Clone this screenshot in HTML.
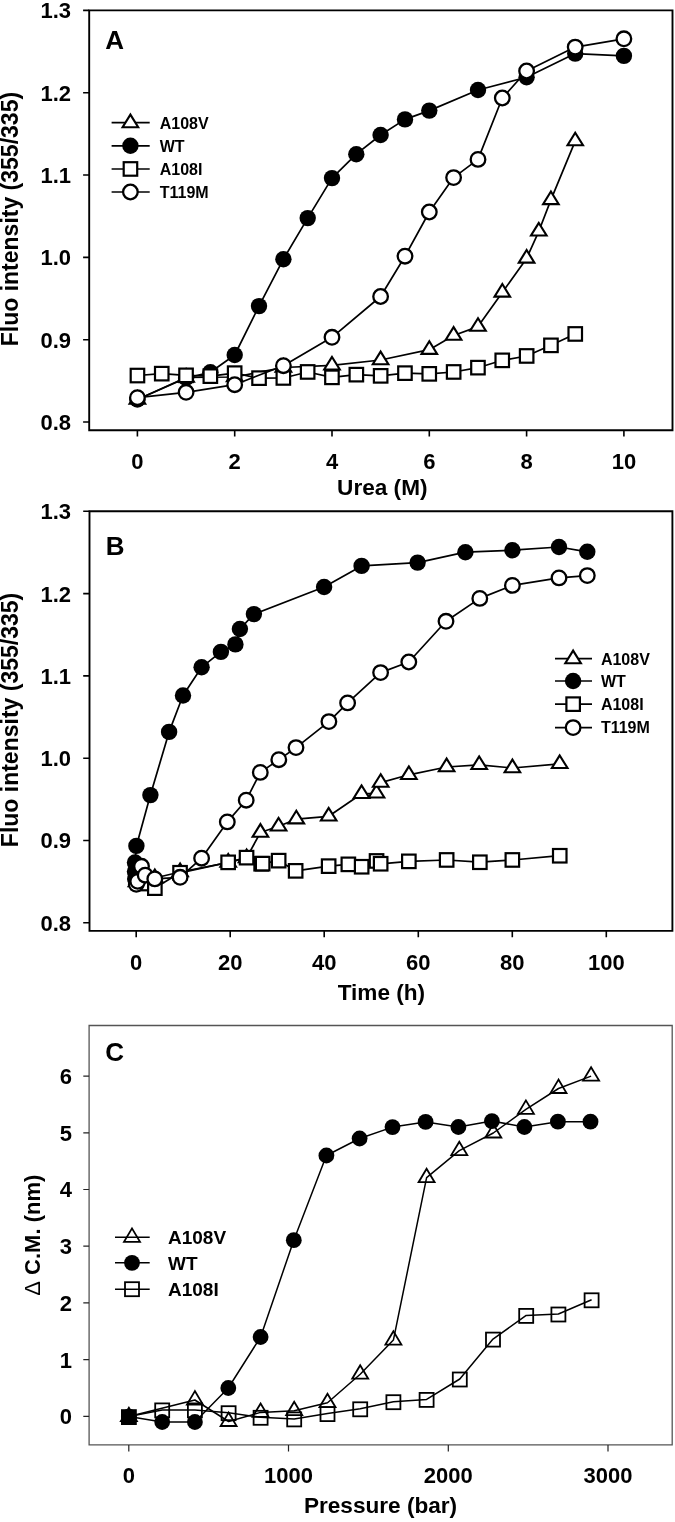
<!DOCTYPE html>
<html><head><meta charset="utf-8"><title>Figure</title>
<style>html,body{margin:0;padding:0;background:#fff;}svg{display:block;will-change:transform;}text{font-family:"Liberation Sans", sans-serif;fill:#000;}</style></head><body>
<svg width="675" height="1522" viewBox="0 0 675 1522">
<rect x="0" y="0" width="675" height="1522" fill="#fff"/>
<path d="M89.2 10.4H672.5V430.2H89.2Z" fill="none" stroke="#000" stroke-width="1.9"/>
<text x="71" y="18.3" font-size="22" font-weight="bold" text-anchor="end">1.3</text>
<text x="71" y="100.6" font-size="22" font-weight="bold" text-anchor="end">1.2</text>
<text x="71" y="182.9" font-size="22" font-weight="bold" text-anchor="end">1.1</text>
<text x="71" y="265.3" font-size="22" font-weight="bold" text-anchor="end">1.0</text>
<text x="71" y="347.6" font-size="22" font-weight="bold" text-anchor="end">0.9</text>
<text x="71" y="429.9" font-size="22" font-weight="bold" text-anchor="end">0.8</text>
<text x="137.4" y="469.4" font-size="22" font-weight="bold" text-anchor="middle">0</text>
<text x="234.7" y="469.4" font-size="22" font-weight="bold" text-anchor="middle">2</text>
<text x="332" y="469.4" font-size="22" font-weight="bold" text-anchor="middle">4</text>
<text x="429.3" y="469.4" font-size="22" font-weight="bold" text-anchor="middle">6</text>
<text x="526.6" y="469.4" font-size="22" font-weight="bold" text-anchor="middle">8</text>
<text x="623.9" y="469.4" font-size="22" font-weight="bold" text-anchor="middle">10</text>
<path d="M83.1 10.4H89.2M83.1 92.7H89.2M83.1 175H89.2M83.1 257.4H89.2M83.1 339.7H89.2M83.1 422H89.2M137.4 430.2V436.5M234.7 430.2V436.5M332 430.2V436.5M429.3 430.2V436.5M526.6 430.2V436.5M623.9 430.2V436.5" stroke="#000" stroke-width="1.6" fill="none"/>
<text x="382.3" y="494.6" font-size="22.6" font-weight="bold" text-anchor="middle">Urea (M)</text>
<text x="18.4" y="219.1" font-size="23" font-weight="bold" text-anchor="middle" transform="rotate(-90 18.4 219.1)">Fluo intensity (355/335)</text>
<text x="105.3" y="48.9" font-size="26" font-weight="bold" text-anchor="start">A</text>
<polyline points="137.4,399.5 186.1,377.5 234.7,377 283.4,367.5 332,365.3 380.6,360 429.3,349.7 453.6,335.5 478,326.6 502.3,292.4 526.6,258.4 538.8,231.3 550.9,199.9 575.2,141.1" fill="none" stroke="#000" stroke-width="1.7" stroke-linejoin="round"/>
<path d="M137.4 391.1L129.6 403.7L145.2 403.7Z" fill="#fff" stroke="#000" stroke-width="2.1" stroke-linejoin="miter"/>
<path d="M186.1 369.1L178.2 381.7L193.9 381.7Z" fill="#fff" stroke="#000" stroke-width="2.1" stroke-linejoin="miter"/>
<path d="M234.7 368.6L226.9 381.2L242.5 381.2Z" fill="#fff" stroke="#000" stroke-width="2.1" stroke-linejoin="miter"/>
<path d="M283.4 359.1L275.6 371.7L291.2 371.7Z" fill="#fff" stroke="#000" stroke-width="2.1" stroke-linejoin="miter"/>
<path d="M332 356.9L324.2 369.5L339.8 369.5Z" fill="#fff" stroke="#000" stroke-width="2.1" stroke-linejoin="miter"/>
<path d="M380.6 351.6L372.8 364.2L388.4 364.2Z" fill="#fff" stroke="#000" stroke-width="2.1" stroke-linejoin="miter"/>
<path d="M429.3 341.3L421.5 353.9L437.1 353.9Z" fill="#fff" stroke="#000" stroke-width="2.1" stroke-linejoin="miter"/>
<path d="M453.6 327.1L445.8 339.7L461.4 339.7Z" fill="#fff" stroke="#000" stroke-width="2.1" stroke-linejoin="miter"/>
<path d="M478 318.2L470.2 330.8L485.8 330.8Z" fill="#fff" stroke="#000" stroke-width="2.1" stroke-linejoin="miter"/>
<path d="M502.3 284L494.5 296.6L510.1 296.6Z" fill="#fff" stroke="#000" stroke-width="2.1" stroke-linejoin="miter"/>
<path d="M526.6 250L518.8 262.6L534.4 262.6Z" fill="#fff" stroke="#000" stroke-width="2.1" stroke-linejoin="miter"/>
<path d="M538.8 222.9L531 235.5L546.6 235.5Z" fill="#fff" stroke="#000" stroke-width="2.1" stroke-linejoin="miter"/>
<path d="M550.9 191.5L543.1 204.1L558.7 204.1Z" fill="#fff" stroke="#000" stroke-width="2.1" stroke-linejoin="miter"/>
<path d="M575.2 132.7L567.5 145.3L583 145.3Z" fill="#fff" stroke="#000" stroke-width="2.1" stroke-linejoin="miter"/>
<polyline points="137.4,399.5 186.1,378 210.4,372.3 234.7,355 259,306.1 283.4,259.2 307.7,218.1 332,178.1 356.3,154.2 380.6,135 405,119.4 429.3,110.6 478,90 526.6,77.3 575.2,53.6 623.9,55.9" fill="none" stroke="#000" stroke-width="1.7" stroke-linejoin="round"/>
<circle cx="137.4" cy="399.5" r="8.2" fill="#000"/>
<circle cx="186.1" cy="378" r="8.2" fill="#000"/>
<circle cx="210.4" cy="372.3" r="8.2" fill="#000"/>
<circle cx="234.7" cy="355" r="8.2" fill="#000"/>
<circle cx="259" cy="306.1" r="8.2" fill="#000"/>
<circle cx="283.4" cy="259.2" r="8.2" fill="#000"/>
<circle cx="307.7" cy="218.1" r="8.2" fill="#000"/>
<circle cx="332" cy="178.1" r="8.2" fill="#000"/>
<circle cx="356.3" cy="154.2" r="8.2" fill="#000"/>
<circle cx="380.6" cy="135" r="8.2" fill="#000"/>
<circle cx="405" cy="119.4" r="8.2" fill="#000"/>
<circle cx="429.3" cy="110.6" r="8.2" fill="#000"/>
<circle cx="478" cy="90" r="8.2" fill="#000"/>
<circle cx="526.6" cy="77.3" r="8.2" fill="#000"/>
<circle cx="575.2" cy="53.6" r="8.2" fill="#000"/>
<circle cx="623.9" cy="55.9" r="8.2" fill="#000"/>
<polyline points="137.4,375.5 161.7,373.6 186.1,375.4 210.4,376.2 234.7,373.2 259,378.2 283.4,378 307.7,372 332,377.3 356.3,374.7 380.6,375.8 405,373.1 429.3,373.8 453.6,372 478,367.7 502.3,360.3 526.6,356 550.9,345.3 575.2,334" fill="none" stroke="#000" stroke-width="1.7" stroke-linejoin="round"/>
<rect x="130.7" y="368.8" width="13.5" height="13.5" fill="#fff" stroke="#000" stroke-width="2.2"/>
<rect x="155" y="366.9" width="13.5" height="13.5" fill="#fff" stroke="#000" stroke-width="2.2"/>
<rect x="179.3" y="368.6" width="13.5" height="13.5" fill="#fff" stroke="#000" stroke-width="2.2"/>
<rect x="203.6" y="369.4" width="13.5" height="13.5" fill="#fff" stroke="#000" stroke-width="2.2"/>
<rect x="227.9" y="366.4" width="13.5" height="13.5" fill="#fff" stroke="#000" stroke-width="2.2"/>
<rect x="252.3" y="371.4" width="13.5" height="13.5" fill="#fff" stroke="#000" stroke-width="2.2"/>
<rect x="276.6" y="371.2" width="13.5" height="13.5" fill="#fff" stroke="#000" stroke-width="2.2"/>
<rect x="300.9" y="365.2" width="13.5" height="13.5" fill="#fff" stroke="#000" stroke-width="2.2"/>
<rect x="325.2" y="370.6" width="13.5" height="13.5" fill="#fff" stroke="#000" stroke-width="2.2"/>
<rect x="349.6" y="367.9" width="13.5" height="13.5" fill="#fff" stroke="#000" stroke-width="2.2"/>
<rect x="373.9" y="369.1" width="13.5" height="13.5" fill="#fff" stroke="#000" stroke-width="2.2"/>
<rect x="398.2" y="366.4" width="13.5" height="13.5" fill="#fff" stroke="#000" stroke-width="2.2"/>
<rect x="422.5" y="367.1" width="13.5" height="13.5" fill="#fff" stroke="#000" stroke-width="2.2"/>
<rect x="446.9" y="365.2" width="13.5" height="13.5" fill="#fff" stroke="#000" stroke-width="2.2"/>
<rect x="471.2" y="360.9" width="13.5" height="13.5" fill="#fff" stroke="#000" stroke-width="2.2"/>
<rect x="495.5" y="353.6" width="13.5" height="13.5" fill="#fff" stroke="#000" stroke-width="2.2"/>
<rect x="519.9" y="349.2" width="13.5" height="13.5" fill="#fff" stroke="#000" stroke-width="2.2"/>
<rect x="544.2" y="338.6" width="13.5" height="13.5" fill="#fff" stroke="#000" stroke-width="2.2"/>
<rect x="568.5" y="327.2" width="13.5" height="13.5" fill="#fff" stroke="#000" stroke-width="2.2"/>
<polyline points="137.4,397.7 186.1,392.3 234.7,384.7 283.4,365.7 332,337.3 380.6,296.5 405,256.2 429.3,212 453.6,177.6 478,159.4 502.3,98 526.6,71 575.2,47.1 623.9,38.8" fill="none" stroke="#000" stroke-width="1.7" stroke-linejoin="round"/>
<circle cx="137.4" cy="397.7" r="7.3" fill="#fff" stroke="#000" stroke-width="2.3"/>
<circle cx="186.1" cy="392.3" r="7.3" fill="#fff" stroke="#000" stroke-width="2.3"/>
<circle cx="234.7" cy="384.7" r="7.3" fill="#fff" stroke="#000" stroke-width="2.3"/>
<circle cx="283.4" cy="365.7" r="7.3" fill="#fff" stroke="#000" stroke-width="2.3"/>
<circle cx="332" cy="337.3" r="7.3" fill="#fff" stroke="#000" stroke-width="2.3"/>
<circle cx="380.6" cy="296.5" r="7.3" fill="#fff" stroke="#000" stroke-width="2.3"/>
<circle cx="405" cy="256.2" r="7.3" fill="#fff" stroke="#000" stroke-width="2.3"/>
<circle cx="429.3" cy="212" r="7.3" fill="#fff" stroke="#000" stroke-width="2.3"/>
<circle cx="453.6" cy="177.6" r="7.3" fill="#fff" stroke="#000" stroke-width="2.3"/>
<circle cx="478" cy="159.4" r="7.3" fill="#fff" stroke="#000" stroke-width="2.3"/>
<circle cx="502.3" cy="98" r="7.3" fill="#fff" stroke="#000" stroke-width="2.3"/>
<circle cx="526.6" cy="71" r="7.3" fill="#fff" stroke="#000" stroke-width="2.3"/>
<circle cx="575.2" cy="47.1" r="7.3" fill="#fff" stroke="#000" stroke-width="2.3"/>
<circle cx="623.9" cy="38.8" r="7.3" fill="#fff" stroke="#000" stroke-width="2.3"/>
<path d="M111.6 122.7H149.7" stroke="#000" stroke-width="1.7"/>
<path d="M130.4 114.6L122.6 127.2L138.2 127.2Z" fill="#fff" stroke="#000" stroke-width="2.1" stroke-linejoin="miter"/>
<text x="159.7" y="128.5" font-size="16" font-weight="bold" text-anchor="start">A108V</text>
<path d="M111.6 145.8H149.7" stroke="#000" stroke-width="1.7"/>
<circle cx="130.4" cy="145.8" r="8.2" fill="#000"/>
<text x="159.7" y="151.6" font-size="16" font-weight="bold" text-anchor="start">WT</text>
<path d="M111.6 169H149.7" stroke="#000" stroke-width="1.7"/>
<rect x="123.7" y="162.2" width="13.5" height="13.5" fill="#fff" stroke="#000" stroke-width="2.2"/>
<text x="159.7" y="174.8" font-size="16" font-weight="bold" text-anchor="start">A108I</text>
<path d="M111.6 192H149.7" stroke="#000" stroke-width="1.7"/>
<circle cx="130.4" cy="192" r="7.3" fill="#fff" stroke="#000" stroke-width="2.3"/>
<text x="159.7" y="197.8" font-size="16" font-weight="bold" text-anchor="start">T119M</text>
<path d="M89.5 511.3H672.4V930.9H89.5Z" fill="none" stroke="#000" stroke-width="1.9"/>
<text x="71" y="519.2" font-size="22" font-weight="bold" text-anchor="end">1.3</text>
<text x="71" y="601.5" font-size="22" font-weight="bold" text-anchor="end">1.2</text>
<text x="71" y="683.8" font-size="22" font-weight="bold" text-anchor="end">1.1</text>
<text x="71" y="766.1" font-size="22" font-weight="bold" text-anchor="end">1.0</text>
<text x="71" y="848.4" font-size="22" font-weight="bold" text-anchor="end">0.9</text>
<text x="71" y="930.7" font-size="22" font-weight="bold" text-anchor="end">0.8</text>
<text x="136.2" y="969.6" font-size="22" font-weight="bold" text-anchor="middle">0</text>
<text x="230.2" y="969.6" font-size="22" font-weight="bold" text-anchor="middle">20</text>
<text x="324.2" y="969.6" font-size="22" font-weight="bold" text-anchor="middle">40</text>
<text x="418.3" y="969.6" font-size="22" font-weight="bold" text-anchor="middle">60</text>
<text x="512.3" y="969.6" font-size="22" font-weight="bold" text-anchor="middle">80</text>
<text x="606.3" y="969.6" font-size="22" font-weight="bold" text-anchor="middle">100</text>
<path d="M83.2 511.3H89.5M83.2 593.6H89.5M83.2 675.9H89.5M83.2 758.2H89.5M83.2 840.5H89.5M83.2 922.8H89.5M136.2 930.9V937.3M230.2 930.9V937.3M324.2 930.9V937.3M418.3 930.9V937.3M512.3 930.9V937.3M606.3 930.9V937.3" stroke="#000" stroke-width="1.6" fill="none"/>
<text x="381.4" y="1000.2" font-size="22.6" font-weight="bold" text-anchor="middle">Time (h)</text>
<text x="18.4" y="720" font-size="23" font-weight="bold" text-anchor="middle" transform="rotate(-90 18.4 720.0)">Fluo intensity (355/335)</text>
<text x="105.8" y="555" font-size="26" font-weight="bold" text-anchor="start">B</text>
<polyline points="136.5,882 145,879 154.8,878 180.1,872 228.2,862.5 246.6,857.9 260.4,832.5 278.6,826.3 296.3,819.2 328.7,816.3 361.6,793.8 376.5,793.3 380.7,782.6 408.9,774.8 446.6,767 479.2,764.8 512.4,768 559.7,763.8" fill="none" stroke="#000" stroke-width="1.7" stroke-linejoin="round"/>
<path d="M136.5 873.6L128.7 886.2L144.3 886.2Z" fill="#fff" stroke="#000" stroke-width="2.1" stroke-linejoin="miter"/>
<path d="M145 870.6L137.2 883.2L152.8 883.2Z" fill="#fff" stroke="#000" stroke-width="2.1" stroke-linejoin="miter"/>
<path d="M154.8 869.6L147 882.2L162.6 882.2Z" fill="#fff" stroke="#000" stroke-width="2.1" stroke-linejoin="miter"/>
<path d="M180.1 863.6L172.3 876.2L187.9 876.2Z" fill="#fff" stroke="#000" stroke-width="2.1" stroke-linejoin="miter"/>
<path d="M228.2 854.1L220.4 866.7L236 866.7Z" fill="#fff" stroke="#000" stroke-width="2.1" stroke-linejoin="miter"/>
<path d="M246.6 849.5L238.8 862.1L254.4 862.1Z" fill="#fff" stroke="#000" stroke-width="2.1" stroke-linejoin="miter"/>
<path d="M260.4 824.1L252.6 836.7L268.2 836.7Z" fill="#fff" stroke="#000" stroke-width="2.1" stroke-linejoin="miter"/>
<path d="M278.6 817.9L270.8 830.5L286.4 830.5Z" fill="#fff" stroke="#000" stroke-width="2.1" stroke-linejoin="miter"/>
<path d="M296.3 810.8L288.5 823.4L304.1 823.4Z" fill="#fff" stroke="#000" stroke-width="2.1" stroke-linejoin="miter"/>
<path d="M328.7 807.9L320.9 820.5L336.5 820.5Z" fill="#fff" stroke="#000" stroke-width="2.1" stroke-linejoin="miter"/>
<path d="M361.6 785.4L353.8 798L369.4 798Z" fill="#fff" stroke="#000" stroke-width="2.1" stroke-linejoin="miter"/>
<path d="M376.5 784.9L368.7 797.5L384.3 797.5Z" fill="#fff" stroke="#000" stroke-width="2.1" stroke-linejoin="miter"/>
<path d="M380.7 774.2L372.9 786.8L388.5 786.8Z" fill="#fff" stroke="#000" stroke-width="2.1" stroke-linejoin="miter"/>
<path d="M408.9 766.4L401.1 779L416.7 779Z" fill="#fff" stroke="#000" stroke-width="2.1" stroke-linejoin="miter"/>
<path d="M446.6 758.6L438.8 771.2L454.4 771.2Z" fill="#fff" stroke="#000" stroke-width="2.1" stroke-linejoin="miter"/>
<path d="M479.2 756.4L471.4 769L487 769Z" fill="#fff" stroke="#000" stroke-width="2.1" stroke-linejoin="miter"/>
<path d="M512.4 759.6L504.6 772.2L520.2 772.2Z" fill="#fff" stroke="#000" stroke-width="2.1" stroke-linejoin="miter"/>
<path d="M559.7 755.4L551.9 768L567.5 768Z" fill="#fff" stroke="#000" stroke-width="2.1" stroke-linejoin="miter"/>
<polyline points="135.2,879 135,871.5 135,862.5 136.4,845.9 150.4,795.1 169.1,731.9 183,695.5 201.6,667.3 220.9,651.9 235.4,644.4 239.9,629 253.9,614.1 324.1,587 361.6,565.9 417.6,562.6 465.4,552.2 512.4,550.2 559,547 587.3,551.8" fill="none" stroke="#000" stroke-width="1.7" stroke-linejoin="round"/>
<circle cx="135.2" cy="879" r="8.2" fill="#000"/>
<circle cx="135" cy="871.5" r="8.2" fill="#000"/>
<circle cx="135" cy="862.5" r="8.2" fill="#000"/>
<circle cx="136.4" cy="845.9" r="8.2" fill="#000"/>
<circle cx="150.4" cy="795.1" r="8.2" fill="#000"/>
<circle cx="169.1" cy="731.9" r="8.2" fill="#000"/>
<circle cx="183" cy="695.5" r="8.2" fill="#000"/>
<circle cx="201.6" cy="667.3" r="8.2" fill="#000"/>
<circle cx="220.9" cy="651.9" r="8.2" fill="#000"/>
<circle cx="235.4" cy="644.4" r="8.2" fill="#000"/>
<circle cx="239.9" cy="629" r="8.2" fill="#000"/>
<circle cx="253.9" cy="614.1" r="8.2" fill="#000"/>
<circle cx="324.1" cy="587" r="8.2" fill="#000"/>
<circle cx="361.6" cy="565.9" r="8.2" fill="#000"/>
<circle cx="417.6" cy="562.6" r="8.2" fill="#000"/>
<circle cx="465.4" cy="552.2" r="8.2" fill="#000"/>
<circle cx="512.4" cy="550.2" r="8.2" fill="#000"/>
<circle cx="559" cy="547" r="8.2" fill="#000"/>
<circle cx="587.3" cy="551.8" r="8.2" fill="#000"/>
<polyline points="138.5,882.5 145.5,883.5 154.8,888.1 180.1,872.8 228.2,862.4 246.6,857.6 261.2,863.7 262.7,863.6 278.6,860.6 295.7,870.9 328.7,866.1 348.4,864.4 361.6,866.7 376.5,861 380.7,863.8 408.9,861.4 446.6,860 479.9,862.2 512.4,860 559.7,855.7" fill="none" stroke="#000" stroke-width="1.7" stroke-linejoin="round"/>
<rect x="131.8" y="875.8" width="13.5" height="13.5" fill="#fff" stroke="#000" stroke-width="2.2"/>
<rect x="138.8" y="876.8" width="13.5" height="13.5" fill="#fff" stroke="#000" stroke-width="2.2"/>
<rect x="148.1" y="881.4" width="13.5" height="13.5" fill="#fff" stroke="#000" stroke-width="2.2"/>
<rect x="173.3" y="866" width="13.5" height="13.5" fill="#fff" stroke="#000" stroke-width="2.2"/>
<rect x="221.4" y="855.6" width="13.5" height="13.5" fill="#fff" stroke="#000" stroke-width="2.2"/>
<rect x="239.8" y="850.9" width="13.5" height="13.5" fill="#fff" stroke="#000" stroke-width="2.2"/>
<rect x="254.4" y="857" width="13.5" height="13.5" fill="#fff" stroke="#000" stroke-width="2.2"/>
<rect x="255.9" y="856.9" width="13.5" height="13.5" fill="#fff" stroke="#000" stroke-width="2.2"/>
<rect x="271.9" y="853.9" width="13.5" height="13.5" fill="#fff" stroke="#000" stroke-width="2.2"/>
<rect x="288.9" y="864.1" width="13.5" height="13.5" fill="#fff" stroke="#000" stroke-width="2.2"/>
<rect x="321.9" y="859.4" width="13.5" height="13.5" fill="#fff" stroke="#000" stroke-width="2.2"/>
<rect x="341.6" y="857.6" width="13.5" height="13.5" fill="#fff" stroke="#000" stroke-width="2.2"/>
<rect x="354.9" y="860" width="13.5" height="13.5" fill="#fff" stroke="#000" stroke-width="2.2"/>
<rect x="369.8" y="854.2" width="13.5" height="13.5" fill="#fff" stroke="#000" stroke-width="2.2"/>
<rect x="373.9" y="857" width="13.5" height="13.5" fill="#fff" stroke="#000" stroke-width="2.2"/>
<rect x="402.1" y="854.6" width="13.5" height="13.5" fill="#fff" stroke="#000" stroke-width="2.2"/>
<rect x="439.9" y="853.2" width="13.5" height="13.5" fill="#fff" stroke="#000" stroke-width="2.2"/>
<rect x="473.1" y="855.5" width="13.5" height="13.5" fill="#fff" stroke="#000" stroke-width="2.2"/>
<rect x="505.6" y="853.2" width="13.5" height="13.5" fill="#fff" stroke="#000" stroke-width="2.2"/>
<rect x="553" y="849" width="13.5" height="13.5" fill="#fff" stroke="#000" stroke-width="2.2"/>
<polyline points="136.3,884.3 137.7,881.3 141.5,866.3 145.2,875.2 154.8,878.9 180.1,877.3 201.6,858.2 227.3,821.9 246.2,800.2 260.3,772.4 278.8,759.7 296,747.6 328.9,721.6 347.6,702.9 380.6,672.6 408.8,662 446,621.3 479.8,598.4 512.4,585.4 559,577.9 587.3,575.6" fill="none" stroke="#000" stroke-width="1.7" stroke-linejoin="round"/>
<circle cx="136.3" cy="884.3" r="7.3" fill="#fff" stroke="#000" stroke-width="2.3"/>
<circle cx="137.7" cy="881.3" r="7.3" fill="#fff" stroke="#000" stroke-width="2.3"/>
<circle cx="141.5" cy="866.3" r="7.3" fill="#fff" stroke="#000" stroke-width="2.3"/>
<circle cx="145.2" cy="875.2" r="7.3" fill="#fff" stroke="#000" stroke-width="2.3"/>
<circle cx="154.8" cy="878.9" r="7.3" fill="#fff" stroke="#000" stroke-width="2.3"/>
<circle cx="180.1" cy="877.3" r="7.3" fill="#fff" stroke="#000" stroke-width="2.3"/>
<circle cx="201.6" cy="858.2" r="7.3" fill="#fff" stroke="#000" stroke-width="2.3"/>
<circle cx="227.3" cy="821.9" r="7.3" fill="#fff" stroke="#000" stroke-width="2.3"/>
<circle cx="246.2" cy="800.2" r="7.3" fill="#fff" stroke="#000" stroke-width="2.3"/>
<circle cx="260.3" cy="772.4" r="7.3" fill="#fff" stroke="#000" stroke-width="2.3"/>
<circle cx="278.8" cy="759.7" r="7.3" fill="#fff" stroke="#000" stroke-width="2.3"/>
<circle cx="296" cy="747.6" r="7.3" fill="#fff" stroke="#000" stroke-width="2.3"/>
<circle cx="328.9" cy="721.6" r="7.3" fill="#fff" stroke="#000" stroke-width="2.3"/>
<circle cx="347.6" cy="702.9" r="7.3" fill="#fff" stroke="#000" stroke-width="2.3"/>
<circle cx="380.6" cy="672.6" r="7.3" fill="#fff" stroke="#000" stroke-width="2.3"/>
<circle cx="408.8" cy="662" r="7.3" fill="#fff" stroke="#000" stroke-width="2.3"/>
<circle cx="446" cy="621.3" r="7.3" fill="#fff" stroke="#000" stroke-width="2.3"/>
<circle cx="479.8" cy="598.4" r="7.3" fill="#fff" stroke="#000" stroke-width="2.3"/>
<circle cx="512.4" cy="585.4" r="7.3" fill="#fff" stroke="#000" stroke-width="2.3"/>
<circle cx="559" cy="577.9" r="7.3" fill="#fff" stroke="#000" stroke-width="2.3"/>
<circle cx="587.3" cy="575.6" r="7.3" fill="#fff" stroke="#000" stroke-width="2.3"/>
<path d="M555 658.7H592" stroke="#000" stroke-width="1.7"/>
<path d="M573.1 650.6L565.3 663.2L580.9 663.2Z" fill="#fff" stroke="#000" stroke-width="2.1" stroke-linejoin="miter"/>
<text x="600.9" y="664.5" font-size="16" font-weight="bold" text-anchor="start">A108V</text>
<path d="M555 681H592" stroke="#000" stroke-width="1.7"/>
<circle cx="573.1" cy="681" r="8.2" fill="#000"/>
<text x="600.9" y="686.8" font-size="16" font-weight="bold" text-anchor="start">WT</text>
<path d="M555 704.1H592" stroke="#000" stroke-width="1.7"/>
<rect x="566.4" y="697.4" width="13.5" height="13.5" fill="#fff" stroke="#000" stroke-width="2.2"/>
<text x="600.9" y="709.9" font-size="16" font-weight="bold" text-anchor="start">A108I</text>
<path d="M555 727.6H592" stroke="#000" stroke-width="1.7"/>
<circle cx="573.1" cy="727.6" r="7.3" fill="#fff" stroke="#000" stroke-width="2.3"/>
<text x="600.9" y="733.4" font-size="16" font-weight="bold" text-anchor="start">T119M</text>
<path d="M89.1 1025.5H672.2V1444.9H89.1Z" fill="none" stroke="#555" stroke-width="1.3"/>
<text x="72" y="1424.2" font-size="22" font-weight="bold" text-anchor="end">0</text>
<text x="72" y="1367.5" font-size="22" font-weight="bold" text-anchor="end">1</text>
<text x="72" y="1310.8" font-size="22" font-weight="bold" text-anchor="end">2</text>
<text x="72" y="1254.1" font-size="22" font-weight="bold" text-anchor="end">3</text>
<text x="72" y="1197.4" font-size="22" font-weight="bold" text-anchor="end">4</text>
<text x="72" y="1140.7" font-size="22" font-weight="bold" text-anchor="end">5</text>
<text x="72" y="1084" font-size="22" font-weight="bold" text-anchor="end">6</text>
<text x="128.8" y="1483" font-size="22" font-weight="bold" text-anchor="middle">0</text>
<text x="288.5" y="1483" font-size="22" font-weight="bold" text-anchor="middle">1000</text>
<text x="448.3" y="1483" font-size="22" font-weight="bold" text-anchor="middle">2000</text>
<text x="608" y="1483" font-size="22" font-weight="bold" text-anchor="middle">3000</text>
<path d="M83.3 1416.3H89.1M83.3 1359.6H89.1M83.3 1302.9H89.1M83.3 1246.2H89.1M83.3 1189.5H89.1M83.3 1132.8H89.1M83.3 1076.1H89.1M128.8 1444.9V1451.5M288.5 1444.9V1451.5M448.3 1444.9V1451.5M608 1444.9V1451.5" stroke="#222" stroke-width="1.2" fill="none"/>
<text x="380.5" y="1513.2" font-size="22.6" font-weight="bold" text-anchor="middle">Pressure (bar)</text>
<g transform="rotate(-90 39.6 1235.2)"><text x="39.6" y="1235.2" font-size="22" text-anchor="middle"><tspan font-weight="normal">&#916;</tspan><tspan font-weight="bold"> C.M. (nm)</tspan></text></g>
<text x="105.3" y="1061.1" font-size="26" font-weight="bold" text-anchor="start">C</text>
<polyline points="128.9,1416.6 194.9,1400 228.6,1421.5 260.6,1412.4 294.2,1410.7 327.5,1402.7 360.2,1374.2 393.4,1340.1 426.6,1177.7 459.3,1150.6 493.3,1133 525.9,1109.3 558.5,1088.5 591.1,1076.1" fill="none" stroke="#000" stroke-width="1.5" stroke-linejoin="round"/>
<path d="M128.9 1407.7L120.9 1421.1L136.9 1421.1Z" fill="none" stroke="#000" stroke-width="1.8" stroke-linejoin="miter"/>
<path d="M194.9 1391.1L186.9 1404.5L202.9 1404.5Z" fill="none" stroke="#000" stroke-width="1.8" stroke-linejoin="miter"/>
<path d="M228.6 1412.6L220.6 1426L236.6 1426Z" fill="none" stroke="#000" stroke-width="1.8" stroke-linejoin="miter"/>
<path d="M260.6 1403.5L252.6 1416.9L268.6 1416.9Z" fill="none" stroke="#000" stroke-width="1.8" stroke-linejoin="miter"/>
<path d="M294.2 1401.8L286.2 1415.2L302.2 1415.2Z" fill="none" stroke="#000" stroke-width="1.8" stroke-linejoin="miter"/>
<path d="M327.5 1393.8L319.5 1407.2L335.5 1407.2Z" fill="none" stroke="#000" stroke-width="1.8" stroke-linejoin="miter"/>
<path d="M360.2 1365.3L352.2 1378.7L368.2 1378.7Z" fill="none" stroke="#000" stroke-width="1.8" stroke-linejoin="miter"/>
<path d="M393.4 1331.2L385.4 1344.6L401.4 1344.6Z" fill="none" stroke="#000" stroke-width="1.8" stroke-linejoin="miter"/>
<path d="M426.6 1168.8L418.6 1182.2L434.6 1182.2Z" fill="none" stroke="#000" stroke-width="1.8" stroke-linejoin="miter"/>
<path d="M459.3 1141.7L451.3 1155.1L467.3 1155.1Z" fill="none" stroke="#000" stroke-width="1.8" stroke-linejoin="miter"/>
<path d="M493.3 1124.1L485.3 1137.5L501.3 1137.5Z" fill="none" stroke="#000" stroke-width="1.8" stroke-linejoin="miter"/>
<path d="M525.9 1100.4L517.9 1113.8L533.9 1113.8Z" fill="none" stroke="#000" stroke-width="1.8" stroke-linejoin="miter"/>
<path d="M558.5 1079.6L550.5 1093L566.5 1093Z" fill="none" stroke="#000" stroke-width="1.8" stroke-linejoin="miter"/>
<path d="M591.1 1067.2L583.1 1080.6L599.1 1080.6Z" fill="none" stroke="#000" stroke-width="1.8" stroke-linejoin="miter"/>
<polyline points="128.9,1416.6 162.2,1422 194.9,1422 228.3,1388 260.6,1337 293.8,1240.2 326.4,1155.5 359.6,1138.5 392.5,1127.1 425.6,1121.9 458.4,1127 491.9,1121.1 524.4,1127 557.9,1121.7 590.5,1121.7" fill="none" stroke="#000" stroke-width="1.5" stroke-linejoin="round"/>
<circle cx="128.9" cy="1416.6" r="7.9" fill="#000"/>
<circle cx="162.2" cy="1422" r="7.9" fill="#000"/>
<circle cx="194.9" cy="1422" r="7.9" fill="#000"/>
<circle cx="228.3" cy="1388" r="7.9" fill="#000"/>
<circle cx="260.6" cy="1337" r="7.9" fill="#000"/>
<circle cx="293.8" cy="1240.2" r="7.9" fill="#000"/>
<circle cx="326.4" cy="1155.5" r="7.9" fill="#000"/>
<circle cx="359.6" cy="1138.5" r="7.9" fill="#000"/>
<circle cx="392.5" cy="1127.1" r="7.9" fill="#000"/>
<circle cx="425.6" cy="1121.9" r="7.9" fill="#000"/>
<circle cx="458.4" cy="1127" r="7.9" fill="#000"/>
<circle cx="491.9" cy="1121.1" r="7.9" fill="#000"/>
<circle cx="524.4" cy="1127" r="7.9" fill="#000"/>
<circle cx="557.9" cy="1121.7" r="7.9" fill="#000"/>
<circle cx="590.5" cy="1121.7" r="7.9" fill="#000"/>
<polyline points="128.9,1416.6 162.2,1409.9 194.9,1409.9 228.6,1412.7 260.6,1417.3 294.2,1418.9 327.5,1413.6 360.2,1408.8 393.4,1401.7 426.6,1399.4 459.8,1379 493,1339.1 526.2,1315.4 558.4,1314 591.6,1299.8" fill="none" stroke="#000" stroke-width="1.5" stroke-linejoin="round"/>
<rect x="121.9" y="1410.1" width="14" height="14" fill="#000" stroke="#000" stroke-width="1.8"/>
<rect x="155.2" y="1403.4" width="14" height="14" fill="none" stroke="#000" stroke-width="1.8"/>
<rect x="187.9" y="1403.4" width="14" height="14" fill="none" stroke="#000" stroke-width="1.8"/>
<rect x="221.6" y="1406.2" width="14" height="14" fill="none" stroke="#000" stroke-width="1.8"/>
<rect x="253.6" y="1410.8" width="14" height="14" fill="none" stroke="#000" stroke-width="1.8"/>
<rect x="287.2" y="1412.4" width="14" height="14" fill="none" stroke="#000" stroke-width="1.8"/>
<rect x="320.5" y="1407.1" width="14" height="14" fill="none" stroke="#000" stroke-width="1.8"/>
<rect x="353.2" y="1402.3" width="14" height="14" fill="none" stroke="#000" stroke-width="1.8"/>
<rect x="386.4" y="1395.2" width="14" height="14" fill="none" stroke="#000" stroke-width="1.8"/>
<rect x="419.6" y="1392.9" width="14" height="14" fill="none" stroke="#000" stroke-width="1.8"/>
<rect x="452.8" y="1372.5" width="14" height="14" fill="none" stroke="#000" stroke-width="1.8"/>
<rect x="486" y="1332.6" width="14" height="14" fill="none" stroke="#000" stroke-width="1.8"/>
<rect x="519.2" y="1308.9" width="14" height="14" fill="none" stroke="#000" stroke-width="1.8"/>
<rect x="551.4" y="1307.5" width="14" height="14" fill="none" stroke="#000" stroke-width="1.8"/>
<rect x="584.6" y="1293.3" width="14" height="14" fill="none" stroke="#000" stroke-width="1.8"/>
<path d="M115 1237.3H149.7" stroke="#000" stroke-width="1.5"/>
<path d="M132 1228.4L124 1241.8L140 1241.8Z" fill="none" stroke="#000" stroke-width="1.8" stroke-linejoin="miter"/>
<text x="168" y="1244.3" font-size="19" font-weight="bold" text-anchor="start">A108V</text>
<path d="M115 1262.8H149.7" stroke="#000" stroke-width="1.5"/>
<circle cx="132" cy="1262.8" r="7.9" fill="#000"/>
<text x="168" y="1269.8" font-size="19" font-weight="bold" text-anchor="start">WT</text>
<path d="M115 1289.2H149.7" stroke="#000" stroke-width="1.5"/>
<rect x="125" y="1282.2" width="14" height="14" fill="none" stroke="#000" stroke-width="1.8"/>
<text x="168" y="1296.2" font-size="19" font-weight="bold" text-anchor="start">A108I</text>
</svg></body></html>
